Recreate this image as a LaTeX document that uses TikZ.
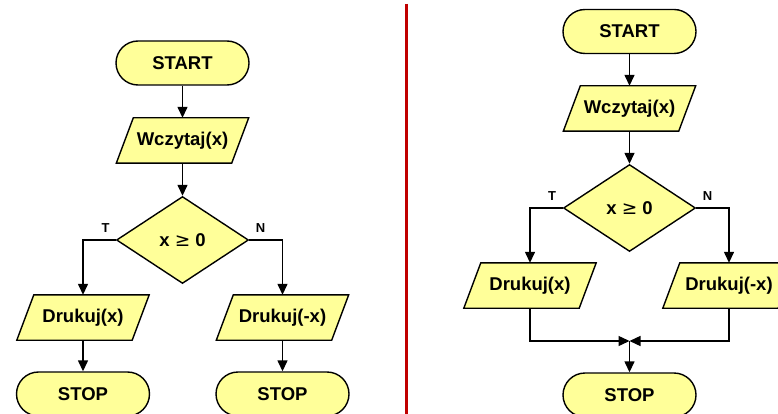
\documentclass[tikz,border=0pt]{standalone}
\usepackage{fontspec}
\setmainfont{Liberation Sans}
\newfontfamily\symfont{DejaVu Sans}
\usetikzlibrary{shapes.geometric,arrows.meta,calc}
\pgfdeclarelayer{background}
\pgfsetlayers{background,main}
\definecolor{boxfill}{HTML}{FFFF99}
\definecolor{divred}{HTML}{C00000}
\tikzset{
  txt/.style={inner sep=0pt, font=\fontsize{18.5}{20}\selectfont\bfseries},
  base/.style={txt, draw=black, line width=1.4pt, fill=boxfill},
  terminal/.style={base, rectangle, rounded corners=22pt, minimum width=133pt, minimum height=44pt},
  iotext/.style={txt, rectangle, minimum width=115pt, minimum height=45pt},
  paraline/.style={draw=black, line width=1.4pt, fill=boxfill, line join=miter},
  decision/.style={base, diamond, minimum width=132pt, minimum height=87pt},
  arr/.style={draw=black, line width=1.4pt, -{Triangle[length=11pt,width=10pt]}},
  lbl/.style={font=\fontsize{13}{14}\selectfont\bfseries, inner sep=0pt}
}
\newcommand\iobox[3]{%
  \node[iotext] (#1) at (#2) {#3};
  \begin{pgfonlayer}{background}
    \path[paraline] ([xshift=8.5pt]#1.north west) -- ([xshift=8.5pt]#1.north east)
      -- ([xshift=-8.5pt]#1.south east) -- ([xshift=-8.5pt]#1.south west) -- cycle;
  \end{pgfonlayer}}
\begin{document}
\begin{tikzpicture}[x=1pt,y=-1pt]
\useasboundingbox (0,0) rectangle (778,414);
% divider
\draw[divred, line width=3.5pt] (406.5,4) -- (406.5,416);
% ---------- left flowchart ----------
\node[terminal] (start1) at (182.5,63) {START};
\iobox{read1}{182.5,140.5}{Wczytaj(x)}
\node[decision] (dec1) at (182.5,240) {x {\symfont\mdseries ≥} 0};
\iobox{pr1}{83,317.5}{Drukuj(x)}
\iobox{pr2}{282.5,317.5}{Drukuj(-x)}
\node[terminal] (stop1) at (83,394) {STOP};
\node[terminal] (stop2) at (282.5,394) {STOP};
\node[lbl] (t1) at (105.5,228) {T};
\node[lbl] (n1) at (260.5,228) {N};
\draw[arr] (start1.south) -- (read1.north);
\draw[arr] (read1.south) -- (dec1.north);
\draw[arr] (dec1.west) -| (pr1.north);
\draw[arr] (dec1.east) -| (pr2.north);
\draw[arr] (pr1.south) -- (stop1.north);
\draw[arr] (pr2.south) -- (stop2.north);
% ---------- right flowchart ----------
\node[terminal] (start2) at (629.5,31.5) {START};
\iobox{read2}{629.5,108.5}{Wczytaj(x)}
\node[decision] (dec2) at (629.5,208) {x {\symfont\mdseries ≥} 0};
\iobox{pr3}{530,285.5}{Drukuj(x)}
\iobox{pr4}{729,285.5}{Drukuj(-x)}
\node[terminal] (stop3) at (629.5,395) {STOP};
\node[lbl] (t2) at (552,196) {T};
\node[lbl] (n2) at (707.5,196) {N};
\coordinate (m) at (629.5,341);
\draw[arr] (start2.south) -- (read2.north);
\draw[arr] (read2.south) -- (dec2.north);
\draw[arr] (dec2.west) -| (pr3.north);
\draw[arr] (dec2.east) -| (pr4.north);
\draw[arr] (pr3.south) |- (m);
\draw[arr] (pr4.south) |- (m);
\draw[arr] (m) -- (stop3.north);
\end{tikzpicture}
\end{document}
